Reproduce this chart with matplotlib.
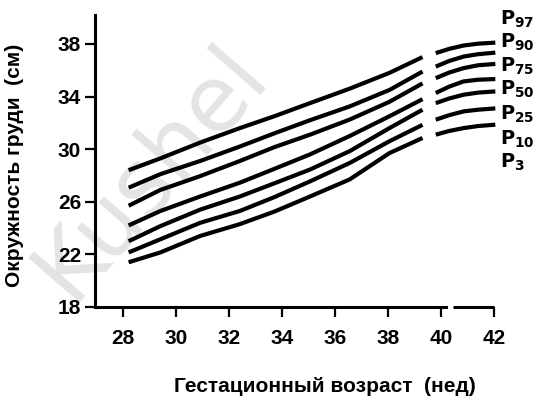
import numpy as np
import matplotlib.pyplot as plt

# gestational age (weeks) for the two drawn parts of the curves
weeks_a = [28.2, 29.4, 30.9, 32.4, 33.7, 35.05, 36.55, 38.05, 39.3]
weeks_b = [39.8, 40.3, 40.85, 41.4, 42.05]

# chest circumference (cm)
p97_a = [28.4, 29.3, 30.5, 31.6, 32.5, 33.5, 34.6, 35.8, 37.0]
p90_a = [27.07, 28.1, 29.1, 30.2, 31.2, 32.2, 33.25, 34.5, 35.9]
p75_a = [25.7, 26.9, 27.95, 29.1, 30.15, 31.1, 32.25, 33.6, 35.0]
p50_a = [24.2, 25.3, 26.4, 27.45, 28.5, 29.6, 31.0, 32.5, 33.8]
p25_a = [23.0, 24.15, 25.4, 26.4, 27.4, 28.45, 29.85, 31.6, 33.0]
p10_a = [22.15, 23.15, 24.4, 25.3, 26.35, 27.55, 28.95, 30.6, 31.85]
p3_a = [21.4, 22.15, 23.4, 24.3, 25.25, 26.4, 27.7, 29.7, 30.85]

p97_b = [37.3, 37.62, 37.88, 38.02, 38.1]
p90_b = [36.28, 36.7, 37.04, 37.22, 37.34]
p75_b = [35.4, 35.82, 36.16, 36.38, 36.48]
p50_b = [34.27, 34.75, 35.15, 35.28, 35.33]
p25_b = [33.5, 33.85, 34.14, 34.3, 34.39]
p10_b = [32.24, 32.58, 32.87, 33.0, 33.1]
p3_b = [31.1, 31.38, 31.6, 31.76, 31.86]

pct_names = ['97', '90', '75', '50', '25', '10', '3']
x_ticks = [28, 30, 32, 34, 36, 38, 40, 42]
y_ticks = [18, 22, 26, 30, 34, 38]

curves_a = [p97_a, p90_a, p75_a, p50_a, p25_a, p10_a, p3_a]
curves_b = [p97_b, p90_b, p75_b, p50_b, p25_b, p10_b, p3_b]

plt.rcParams['font.family'] = ['Liberation Sans', 'DejaVu Sans']
plt.rcParams['font.weight'] = 'bold'

fig = plt.figure(figsize=(5.37, 3.99), dpi=100)
W, H = 537.0, 399.0
ax = fig.add_axes([95/W, 1-307/H, 399/W, 292/H])
ax.patch.set_visible(False)

# faint watermark behind the chart
fig.text(150/W, 1-172/H, 'Kushel', fontsize=66, color='#e4e4e4',
         rotation=49, ha='center', va='center', zorder=-5,
         family='DejaVu Sans', weight='normal')

for ya, yb in zip(curves_a, curves_b):
    ax.plot(weeks_a, ya, color='black', lw=3.0, solid_capstyle='butt')
    ax.plot(weeks_b, yb, color='black', lw=3.0, solid_capstyle='butt', clip_on=False)

ax.set_xlim(26.93, 42)
ax.set_ylim(18, 40.2)
ax.set_xticks(x_ticks)
ax.set_yticks(y_ticks)
ax.tick_params(axis='both', direction='out', length=7, width=1.6, labelsize=15)
ax.tick_params(axis='x', pad=9)
ax.tick_params(axis='y', pad=3)
for lab in ax.get_xticklabels() + ax.get_yticklabels():
    lab.set_fontweight('bold')

ax.spines['top'].set_visible(False)
ax.spines['right'].set_visible(False)
ax.spines['left'].set_linewidth(2.2)
ax.spines['bottom'].set_linewidth(2.2)
ax.spines['bottom'].set_bounds(26.93, 40.2)
ax.plot([40.47, 42], [18, 18], color='black', lw=2.2, clip_on=False,
        solid_capstyle='butt')

fig.text(325/W, 1-386/H, 'Гестационный возраст  (нед)', ha='center', va='center',
         fontsize=15, fontweight='bold')
fig.text(15/W, 1-165/H, 'Окружность груди  (см)', ha='center', va='center',
         rotation=90, fontsize=15, fontweight='bold')

# percentile labels on the right
label_base = [25, 48, 72, 95, 120, 145, 168]
for name, yb in zip(pct_names, label_base):
    fig.text(500/W, 1-yb/H, r'$\mathbf{P}_{\mathbf{%s}}$' % name, ha='left',
             va='baseline', fontsize=14, family='DejaVu Serif')

fig.savefig('out.png', dpi=100)
